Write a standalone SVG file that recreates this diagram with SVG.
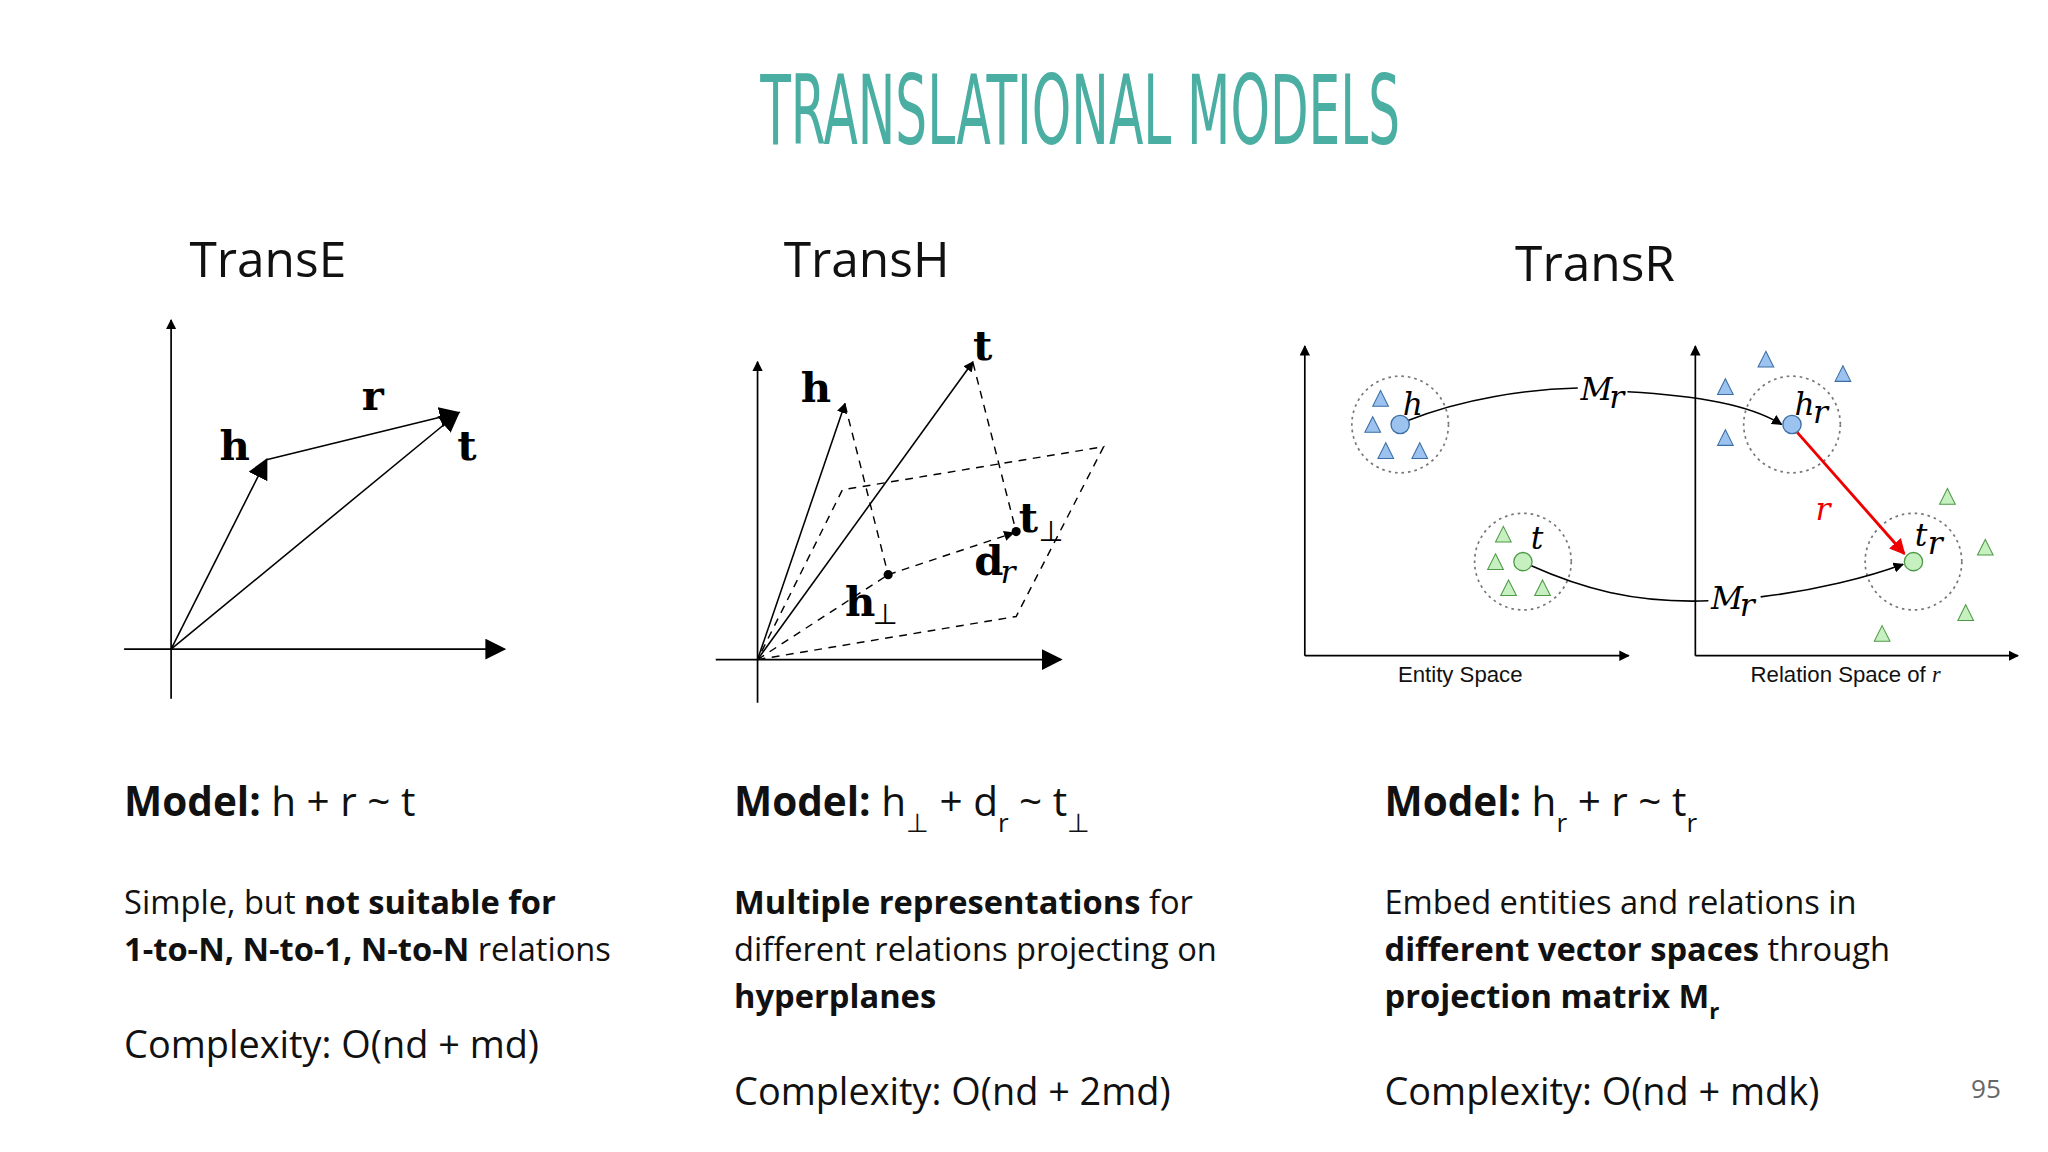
<svg xmlns="http://www.w3.org/2000/svg" width="2048" height="1152" viewBox="0 0 2048 1152">
<defs>
<marker id="ah" viewBox="0 0 10 10" refX="9" refY="5" markerWidth="8" markerHeight="8" orient="auto" markerUnits="userSpaceOnUse"><path d="M0,0L10,5L0,10z" fill="#000"/></marker>
<marker id="ahb" viewBox="0 0 10 10" refX="9" refY="5" markerWidth="16" markerHeight="16" orient="auto" markerUnits="userSpaceOnUse"><path d="M0,0L10,5L0,10z" fill="#000"/></marker>
<marker id="ahr" viewBox="0 0 10 10" refX="9" refY="5" markerWidth="12" markerHeight="12" orient="auto" markerUnits="userSpaceOnUse"><path d="M0,0L10,5L0,10z" fill="#e00"/></marker>
<path id="tb" d="M0,-7L6,5L-6,5z" fill="#9cc3ef" stroke="#3a6ea5" stroke-width="0.8"/>
<path id="tg" d="M0,-7L6,5L-6,5z" fill="#c6f0c0" stroke="#4f9a48" stroke-width="0.8"/>
</defs>
<style>
.ax{stroke:#000;stroke-width:1.3;fill:none}
.v{stroke:#000;stroke-width:1.2;fill:none}
.d{stroke:#000;stroke-width:1.1;fill:none;stroke-dasharray:6 5}
.m{font-family:"DejaVu Serif","Liberation Serif",serif;font-weight:bold;font-size:32px}
.it{font-family:"DejaVu Serif","Liberation Serif",serif;font-style:italic;font-size:24px}
.h{font-family:"Open Sans","Noto Sans",sans-serif;font-size:38px;fill:#111}
.b{font-family:"Open Sans","Noto Sans",sans-serif;font-size:25px;fill:#111}
.mo{font-family:"Open Sans","Noto Sans",sans-serif;font-size:31px;fill:#111}
.cx{font-family:"Open Sans","Noto Sans",sans-serif;font-size:29px;fill:#111}
.sm{font-family:"Liberation Sans",Arial,sans-serif;font-size:17px;fill:#111}
.cl{fill:none;stroke:#777;stroke-width:1.3;stroke-dasharray:2 3}
</style>
<rect width="2048" height="1152" fill="#fff"/>
<g transform="scale(1.30612)">
<g id="title"><text x="827" y="110" text-anchor="middle" textLength="490" lengthAdjust="spacingAndGlyphs" font-family="DejaVu Sans Condensed, DejaVu Sans, sans-serif" font-size="74" fill="#4aaea2">TRANSLATIONAL MODELS</text></g>

<g id="transe">
<text x="145" y="212" class="h">TransE</text>
<line class="ax" x1="131" y1="535" x2="131" y2="245" marker-end="url(#ah)"/>
<line class="ax" x1="95" y1="497" x2="386" y2="497" marker-end="url(#ahb)"/>
<line class="v" x1="131" y1="497" x2="204" y2="352" marker-end="url(#ahb)"/>
<line class="v" x1="204" y1="352" x2="351" y2="316" marker-end="url(#ahb)"/>
<line class="v" x1="131" y1="497" x2="351" y2="316" marker-end="url(#ahb)"/>
<text x="168" y="352" class="m">h</text>
<text x="277" y="314" class="m">r</text>
<text x="350" y="352" class="m">t</text>
</g>

<g id="transh">
<text x="600" y="212" class="h">TransH</text>
<line class="ax" x1="580" y1="538" x2="580" y2="277" marker-end="url(#ah)"/>
<line class="ax" x1="548" y1="505" x2="812" y2="505" marker-end="url(#ahb)"/>
<path class="d" d="M580,505L778,472L845,342L645,375L580,505"/>
<line class="d" x1="580" y1="505" x2="680" y2="440"/>
<line class="d" x1="647" y1="310" x2="680" y2="440"/>
<line class="d" x1="745" y1="278" x2="778" y2="407"/>
<line class="d" x1="680" y1="440" x2="776" y2="408" marker-end="url(#ah)"/>
<line class="v" x1="580" y1="505" x2="647" y2="309" marker-end="url(#ah)"/>
<line class="v" x1="580" y1="505" x2="745" y2="277" marker-end="url(#ah)"/>
<circle cx="680" cy="440" r="3.5"/><circle cx="778" cy="407" r="3.5"/>
<text x="613" y="308" class="m">h</text>
<text x="745" y="276" class="m">t</text>
<text x="647" y="472" class="m">h</text><text x="668" y="478" font-family="DejaVu Sans,sans-serif" font-size="22">⊥</text>
<text x="746" y="440" class="m">d</text><text x="766" y="446" class="it" font-size="18">r</text>
<text x="780" y="407" class="m">t</text><text x="795" y="414" font-family="DejaVu Sans,sans-serif" font-size="22">⊥</text>
</g>

<g id="transr">
<text x="1160" y="215" class="h">TransR</text>
<line class="ax" x1="999" y1="502" x2="999" y2="265" marker-end="url(#ah)"/>
<line class="ax" x1="999" y1="502" x2="1247" y2="502" marker-end="url(#ah)"/>
<line class="ax" x1="1298" y1="502" x2="1298" y2="265" marker-end="url(#ah)"/>
<line class="ax" x1="1298" y1="502" x2="1545" y2="502" marker-end="url(#ah)"/>
<circle class="cl" cx="1072" cy="325" r="37"/>
<circle class="cl" cx="1166" cy="430" r="37"/>
<circle class="cl" cx="1372" cy="325" r="37"/>
<circle class="cl" cx="1465" cy="430" r="37"/>
<path class="v" d="M1078,322C1120,305 1170,298 1208,297"/>
<path class="v" d="M1246,300C1300,303 1340,310 1364,325" marker-end="url(#ah)"/>
<path class="v" d="M1172,433C1210,450 1250,462 1308,460"/>
<path class="v" d="M1348,457C1390,452 1430,442 1457,432" marker-end="url(#ah)"/>
<text x="1210" y="306" class="it">M</text><text x="1232" y="312" class="it" font-size="15">r</text>
<text x="1310" y="466" class="it">M</text><text x="1332" y="472" class="it" font-size="15">r</text>
<line x1="1376" y1="331" x2="1458" y2="424" stroke="#e00" stroke-width="2.2" marker-end="url(#ahr)"/>
<text x="1390" y="398" class="it" fill="#e00">r</text>
<circle cx="1072" cy="325" r="7" fill="#9cc3ef" stroke="#3a6ea5"/>
<circle cx="1372" cy="325" r="7" fill="#9cc3ef" stroke="#3a6ea5"/>
<circle cx="1166" cy="430" r="7" fill="#c6f0c0" stroke="#4f9a48"/>
<circle cx="1465" cy="430" r="7" fill="#c6f0c0" stroke="#4f9a48"/>
<text x="1074" y="318" class="it">h</text>
<text x="1374" y="318" class="it">h</text><text x="1388" y="324" class="it" font-size="15">r</text>
<text x="1172" y="420" class="it">t</text>
<text x="1466" y="418" class="it">t</text><text x="1476" y="424" class="it" font-size="15">r</text>
<use href="#tb" x="1057" y="306"/><use href="#tb" x="1051" y="326"/><use href="#tb" x="1061" y="346"/><use href="#tb" x="1087" y="346"/>
<use href="#tb" x="1352" y="276"/><use href="#tb" x="1411" y="287"/><use href="#tb" x="1321" y="297"/><use href="#tb" x="1321" y="336"/>
<use href="#tg" x="1151" y="410"/><use href="#tg" x="1145" y="431"/><use href="#tg" x="1155" y="451"/><use href="#tg" x="1181" y="451"/>
<use href="#tg" x="1491" y="381"/><use href="#tg" x="1520" y="420"/><use href="#tg" x="1505" y="470"/><use href="#tg" x="1441" y="486"/>
<text x="1118" y="522" class="sm" text-anchor="middle">Entity Space</text>
<text x="1413" y="522" class="sm" text-anchor="middle">Relation Space of <tspan font-family="Liberation Serif,serif" font-style="italic">r</tspan></text>
</g>

<g id="texte">
<text x="95" y="625" class="mo"><tspan font-weight="bold">Model:</tspan> h + r ~ t</text>
<text x="95" y="700" class="b">Simple, but <tspan font-weight="bold">not suitable for</tspan></text>
<text x="95" y="736" class="b"><tspan font-weight="bold">1-to-N, N-to-1, N-to-N</tspan> relations</text>
<text x="95" y="810" class="cx">Complexity: O(nd + md)</text>
</g>
<g id="texth">
<text x="562" y="625" class="mo"><tspan font-weight="bold">Model:</tspan> h<tspan font-size="20" dy="12">⊥</tspan><tspan dy="-12"> + d</tspan><tspan font-size="20" dy="12">r</tspan><tspan dy="-12"> ~ t</tspan><tspan font-size="20" dy="12">⊥</tspan></text>
<text x="562" y="700" class="b"><tspan font-weight="bold">Multiple representations</tspan> for</text>
<text x="562" y="736" class="b">different relations projecting on</text>
<text x="562" y="772" class="b" font-weight="bold">hyperplanes</text>
<text x="562" y="846" class="cx">Complexity: O(nd + 2md)</text>
</g>
<g id="textr">
<text x="1060" y="625" class="mo"><tspan font-weight="bold">Model:</tspan> h<tspan font-size="20" dy="12">r</tspan><tspan dy="-12"> + r ~ t</tspan><tspan font-size="20" dy="12">r</tspan></text>
<text x="1060" y="700" class="b">Embed entities and relations in</text>
<text x="1060" y="736" class="b"><tspan font-weight="bold">different vector spaces</tspan> through</text>
<text x="1060" y="772" class="b" font-weight="bold">projection matrix M<tspan font-size="17" dy="8">r</tspan></text>
<text x="1060" y="846" class="cx">Complexity: O(nd + mdk)</text>
</g>
<text x="1532" y="841" text-anchor="end" font-family="Open Sans,sans-serif" font-size="20" fill="#666">95</text>
</g>
</svg>
